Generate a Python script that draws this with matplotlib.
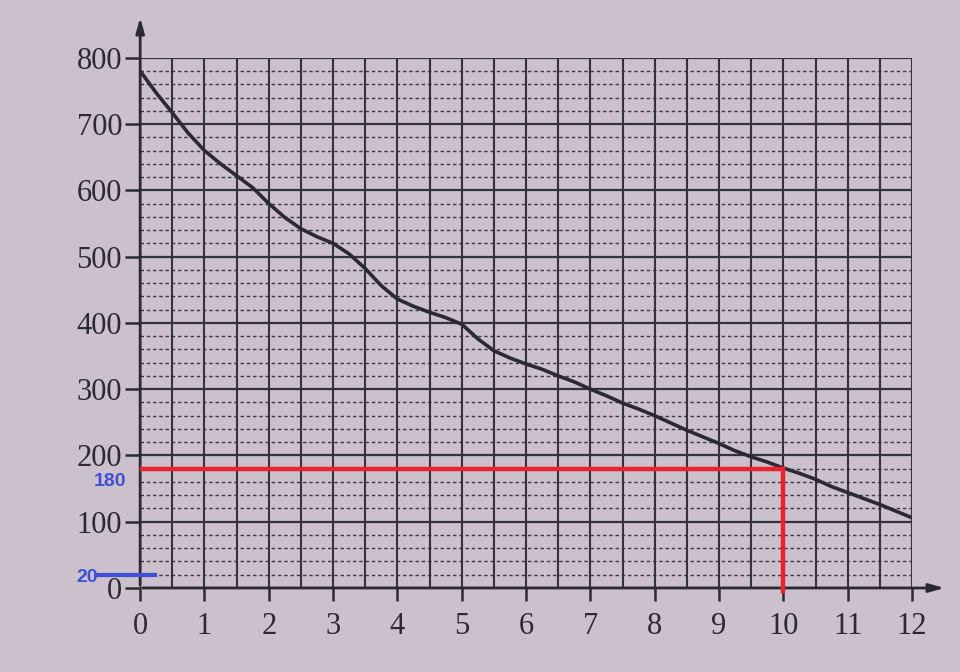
import matplotlib.pyplot as plt
import numpy as np

# curve, every quarter unit
x_vals = [0, 0.25, 0.5, 0.75, 1, 1.25, 1.5, 1.75, 2, 2.25, 2.5, 2.75, 3,
          3.25, 3.5, 3.75, 4, 4.25, 4.5, 4.75, 5, 5.25, 5.5, 5.75, 6,
          6.25, 6.5, 6.75, 7, 7.25, 7.5, 7.75, 8, 8.25, 8.5, 8.75, 9,
          9.25, 9.5, 9.75, 10, 10.25, 10.5, 10.75, 11, 11.25, 11.5, 11.75, 12]
y_vals = [780, 747, 717, 686, 660, 640, 622, 604, 580, 559, 542, 530, 520,
          504, 482, 456, 436, 425, 416, 408, 398, 376, 358, 347, 338,
          330, 320, 311, 300, 290, 279, 270, 260, 249, 238, 228, 218,
          207, 198, 190, 181, 173, 164, 153, 144, 135, 126, 116, 106]

x_ticks = list(range(0, 13))
y_ticks = list(range(0, 801, 100))

mark_x = 10
mark_y = 180
low_y = 20

paper = '#cbc0cc'
ink = '#2b2a33'

plt.rcParams['font.family'] = ['Liberation Serif', 'DejaVu Serif']

fig = plt.figure(figsize=(9.6, 6.72), dpi=100, facecolor=paper)
ax = fig.add_axes([0.146, 0.125, 0.804, 0.789])
ax.set_facecolor(paper)
ax.set_xlim(0, 12)
ax.set_ylim(0, 800)
for s in ax.spines.values():
    s.set_visible(False)

# dashed minor lines every 20
for v in np.arange(20, 800, 20):
    if v % 100 != 0:
        ax.hlines(v, 0, 12, colors='#3e3a44', linestyles=(0, (2.5, 2)), linewidth=1.0, zorder=1)
# solid lines every 100
ax.hlines(y_ticks, 0, 12, colors='#34323c', linewidth=1.6, zorder=2)
# vertical lines every half unit
ax.vlines(np.arange(0, 12.01, 0.5), 0, 800, colors='#34323c', linewidth=1.5, zorder=2)

# axis arrows
ax.annotate('', xy=(12.55, 0), xytext=(0, 0), annotation_clip=False,
            arrowprops=dict(arrowstyle='-|>,head_length=0.9,head_width=0.25', color=ink, lw=2))
ax.annotate('', xy=(0, 865), xytext=(0, 0), annotation_clip=False,
            arrowprops=dict(arrowstyle='-|>,head_length=0.9,head_width=0.25', color=ink, lw=2))

ax.set_xticks(x_ticks)
ax.set_yticks(y_ticks)
ax.tick_params(axis='x', length=9, width=1.8, color=ink, pad=8, labelsize=22, labelcolor=ink)
ax.tick_params(axis='y', length=11, width=1.8, color=ink, pad=2, labelsize=22, labelcolor=ink)

# the curve
ax.plot(x_vals, y_vals, color=ink, linewidth=2.6, zorder=4,
        solid_capstyle='round', solid_joinstyle='round')

# red reading lines
ax.plot([0, mark_x], [mark_y, mark_y], color='#e8232d', linewidth=3.2, zorder=5)
ax.plot([mark_x, mark_x], [mark_y, -5], color='#e8232d', linewidth=3.2, zorder=5, clip_on=False)

# blue marks
blue = '#3f4fd6'
ax.text(-0.22, 160, '180', color=blue, fontsize=14, fontweight='bold', ha='right', va='center',
        family=['Liberation Sans', 'DejaVu Sans'], zorder=6)
ax.plot([-0.68, 0.23], [low_y, low_y], color=blue, linewidth=3, zorder=6, clip_on=False)
ax.text(-0.66, 16, '20', color=blue, fontsize=14, fontweight='bold', ha='right', va='center',
        family=['Liberation Sans', 'DejaVu Sans'], zorder=6)

fig.savefig('out.png', dpi=100, facecolor=paper)
